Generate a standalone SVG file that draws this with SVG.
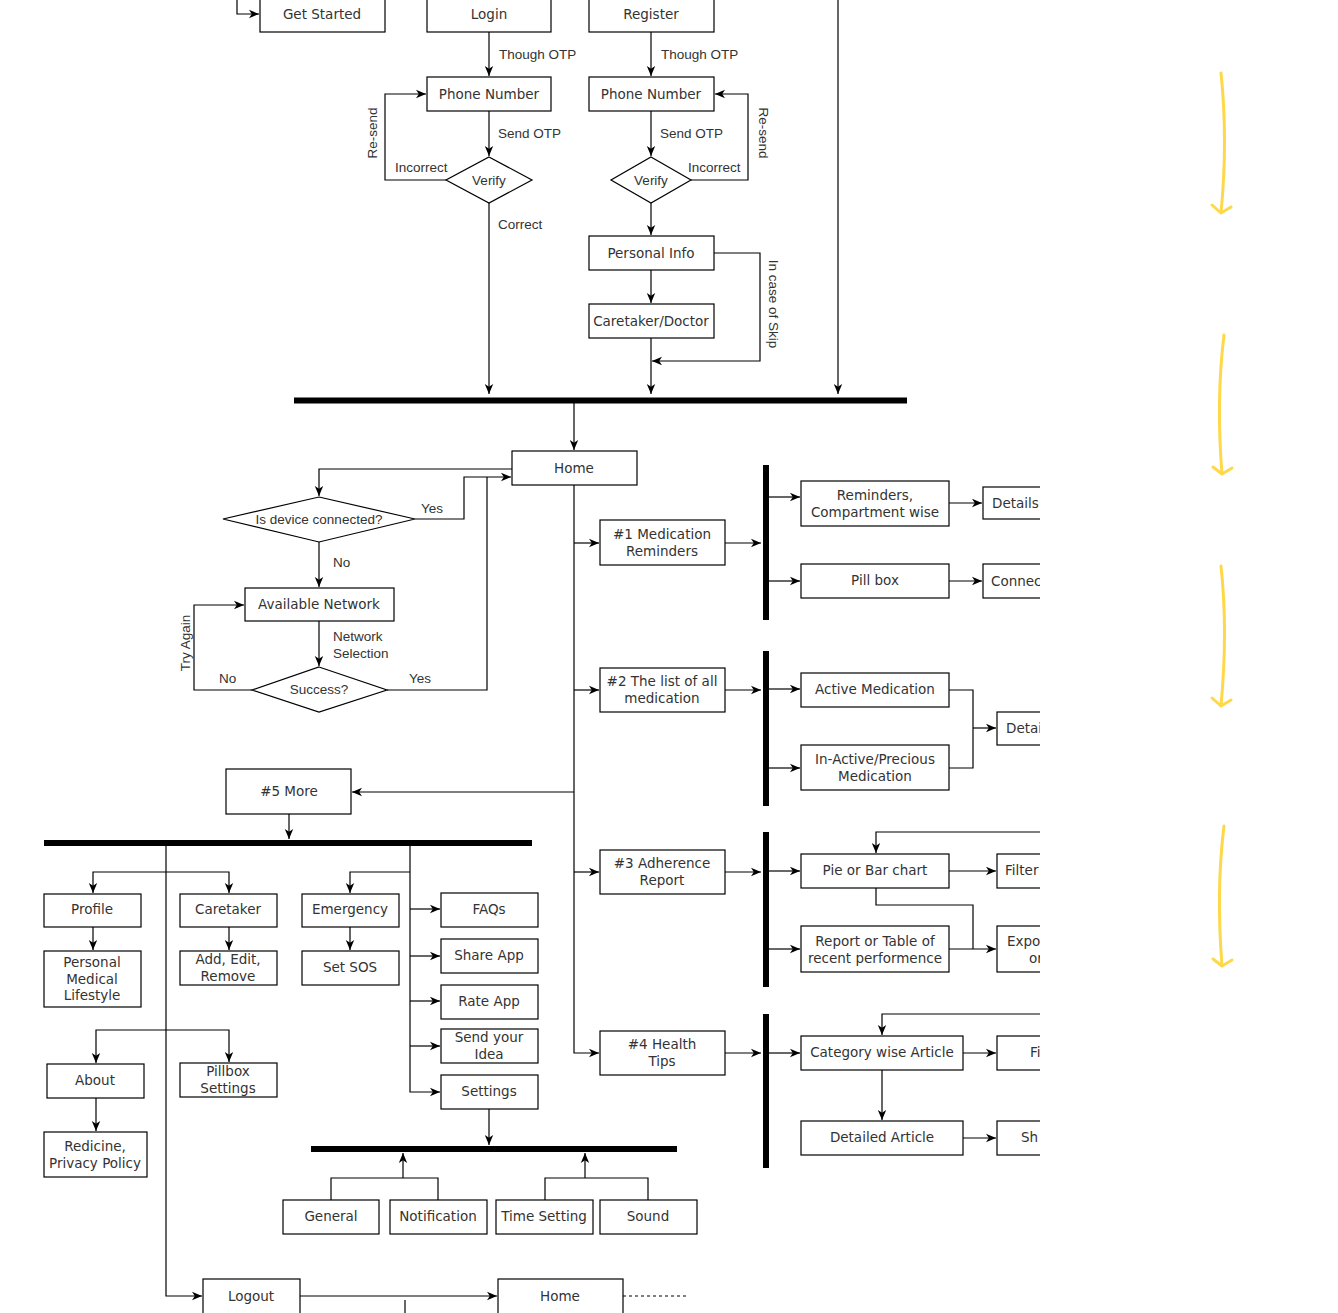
<svg xmlns="http://www.w3.org/2000/svg" width="1338" height="1313" viewBox="0 0 1338 1313">
<style>
.b{fill:#fff;stroke:#000;stroke-width:1.2}
.t{font-family:"DejaVu Sans",Verdana,sans-serif;font-size:13.5px;fill:#333;text-anchor:middle;dominant-baseline:central}
.ts{font-family:"DejaVu Sans",Verdana,sans-serif;font-size:13.5px;fill:#333;dominant-baseline:central}
.l{font-family:"Liberation Sans",Arial,sans-serif;font-size:13.5px;fill:#333;dominant-baseline:central}
.lm{font-family:"Liberation Sans",Arial,sans-serif;font-size:13.5px;fill:#333;text-anchor:middle;dominant-baseline:central}
.c{fill:none;stroke:#000;stroke-width:1.2}
.ca{fill:none;stroke:#000;stroke-width:1.2;marker-end:url(#a)}
.bar{fill:#000}
.y{fill:none;stroke:#FFD84A;stroke-width:3;stroke-linecap:round;stroke-linejoin:round}
</style>
<defs>
<marker id="a" markerUnits="userSpaceOnUse" markerWidth="12" markerHeight="12" refX="10" refY="5" orient="auto">
<path d="M0,0.8 L10,5 L0,9.2 L2.8,5 z" fill="#000"/>
</marker>
<clipPath id="clip"><rect x="0" y="0" width="1040" height="1313"/></clipPath>
</defs>
<rect x="0" y="0" width="1338" height="1313" fill="#fff"/>
<g clip-path="url(#clip)">
<g id="connectors">
<path class="ca" d="M237,0 V14 H259"/>
<path class="ca" d="M489,32 V76"/>
<path class="ca" d="M651,32 V76"/>
<path class="ca" d="M489,111 V156"/>
<path class="ca" d="M651,111 V156"/>
<path class="ca" d="M446,180 H385 V94 H426"/>
<path class="ca" d="M691,180 H748 V94 H715"/>
<path class="ca" d="M489,203 V394"/>
<path class="ca" d="M651,203 V235"/>
<path class="ca" d="M651,270 V303"/>
<path class="ca" d="M714,253 H760 V361 H652"/>
<path class="ca" d="M651,338 V394"/>
<path class="ca" d="M838,0 V394"/>
<path class="ca" d="M574,403 V450"/>
<path class="ca" d="M512,469 H319 V496"/>
<path class="ca" d="M415,519 H464 V477 H511"/>
<path class="ca" d="M319,542 V587"/>
<path class="ca" d="M319,621 V666"/>
<path class="c" d="M387,690 H487 V477"/>
<path class="ca" d="M252,690 H194 V605 H244"/>
<path class="ca" d="M574,485 V1053 H599"/>
<path class="ca" d="M574,543 H599"/>
<path class="ca" d="M574,690 H599"/>
<path class="ca" d="M574,792 H352"/>
<path class="ca" d="M574,872 H599"/>
<path class="ca" d="M725,543 H761"/>
<path class="ca" d="M725,690 H761"/>
<path class="ca" d="M725,872 H761"/>
<path class="ca" d="M725,1053 H761"/>
<path class="ca" d="M769,497 H800"/>
<path class="ca" d="M769,581 H800"/>
<path class="ca" d="M949,503 H982"/>
<path class="ca" d="M949,581 H982"/>
<path class="ca" d="M769,689 H800"/>
<path class="ca" d="M769,768 H800"/>
<path class="c" d="M949,690 H973 V768 H949"/>
<path class="ca" d="M973,728 H996"/>
<path class="ca" d="M769,871 H800"/>
<path class="ca" d="M769,949 H800"/>
<path class="ca" d="M949,871 H996"/>
<path class="ca" d="M1040,832 H876 V853"/>
<path class="c" d="M876,888 V905 H973 V949"/>
<path class="ca" d="M949,949 H996"/>
<path class="ca" d="M769,1053 H800"/>
<path class="ca" d="M963,1053 H996"/>
<path class="ca" d="M1040,1014 H882 V1035"/>
<path class="ca" d="M882,1070 V1120"/>
<path class="ca" d="M963,1138 H996"/>
<path class="ca" d="M289,814 V839"/>
<path class="ca" d="M166,846 V1296 H202"/>
<path class="ca" d="M166,872 H93 V893"/>
<path class="ca" d="M166,872 H229 V893"/>
<path class="ca" d="M93,927 V950"/>
<path class="ca" d="M229,927 V950"/>
<path class="ca" d="M350,927 V950"/>
<path class="ca" d="M410,846 V1092 H440"/>
<path class="ca" d="M410,872 H350 V893"/>
<path class="ca" d="M410,909 H440"/>
<path class="ca" d="M410,956 H440"/>
<path class="ca" d="M410,1001 H440"/>
<path class="ca" d="M410,1046 H440"/>
<path class="ca" d="M166,1030 H96 V1063"/>
<path class="ca" d="M166,1030 H229 V1062"/>
<path class="ca" d="M96,1098 V1131"/>
<path class="ca" d="M489,1109 V1145"/>
<path class="c" d="M331,1200 V1178 H438 V1200"/>
<path class="ca" d="M403,1178 V1153"/>
<path class="c" d="M545,1200 V1178 H648 V1200"/>
<path class="ca" d="M585,1178 V1153"/>
<path class="ca" d="M300,1296 H497"/>
<path class="c" d="M405,1300 V1313"/>
<path class="c" d="M623,1296 H688" stroke-dasharray="3,3"/>
</g>
<g id="labels">
<text class="l" x="499" y="54">Though OTP</text>
<text class="l" x="661" y="54">Though OTP</text>
<text class="l" x="498" y="133">Send OTP</text>
<text class="l" x="660" y="133">Send OTP</text>
<text class="l" x="395" y="167">Incorrect</text>
<text class="l" x="688" y="167">Incorrect</text>
<text class="lm" transform="translate(372,133) rotate(-90)">Re-send</text>
<text class="lm" transform="translate(763,133) rotate(90)">Re-send</text>
<text class="l" x="498" y="224">Correct</text>
<text class="lm" transform="translate(773,304) rotate(90)">In case of Skip</text>
<text class="l" x="421" y="508">Yes</text>
<text class="l" x="333" y="562">No</text>
<text class="l" x="333" y="636">Network</text>
<text class="l" x="333" y="653">Selection</text>
<text class="l" x="409" y="678">Yes</text>
<text class="l" x="219" y="678">No</text>
<text class="lm" transform="translate(185,643) rotate(-90)">Try Again</text>
</g>
<g id="bars">
<rect class="bar" x="294" y="397.5" width="613" height="6"/>
<rect class="bar" x="763" y="465" width="6" height="155"/>
<rect class="bar" x="763" y="651" width="6" height="155"/>
<rect class="bar" x="763" y="832" width="6" height="155"/>
<rect class="bar" x="763" y="1014" width="6" height="154"/>
<rect class="bar" x="44" y="840" width="488" height="6"/>
<rect class="bar" x="311" y="1146" width="366" height="6"/>
</g>
<g id="n-getstarted"><rect class="b" x="260" y="-2" width="125" height="34"/><text class="t" x="322" y="14">Get Started</text></g>
<g id="n-login"><rect class="b" x="427" y="-2" width="124" height="34"/><text class="t" x="489" y="14">Login</text></g>
<g id="n-register"><rect class="b" x="589" y="-2" width="125" height="34"/><text class="t" x="651" y="14">Register</text></g>
<g id="n-phone1"><rect class="b" x="427" y="77" width="124" height="34"/><text class="t" x="489" y="94">Phone Number</text></g>
<g id="n-phone2"><rect class="b" x="589" y="77" width="125" height="34"/><text class="t" x="651" y="94">Phone Number</text></g>
<g id="n-verify1"><polygon class="b" points="489,157 532,180 489,203 446,180"/><text class="lm" x="489" y="180">Verify</text></g>
<g id="n-verify2"><polygon class="b" points="651,157 691,180 651,203 611,180"/><text class="lm" x="651" y="180">Verify</text></g>
<g id="n-personal"><rect class="b" x="589" y="236" width="125" height="34"/><text class="t" x="651" y="253">Personal Info</text></g>
<g id="n-caretakerdoc"><rect class="b" x="589" y="304" width="125" height="34"/><text class="t" x="651" y="321">Caretaker/Doctor</text></g>
<g id="n-home"><rect class="b" x="512" y="451" width="125" height="34"/><text class="t" x="574" y="468">Home</text></g>
<g id="n-device"><polygon class="b" points="319,497 415,519 319,542 223,519"/><text class="lm" x="319" y="519">Is device connected?</text></g>
<g id="n-network"><rect class="b" x="245" y="588" width="149" height="33"/><text class="t" x="319" y="604">Available Network</text></g>
<g id="n-success"><polygon class="b" points="319,667 387,690 319,712 252,690"/><text class="lm" x="319" y="689">Success?</text></g>
<g id="n-m1"><rect class="b" x="600" y="520" width="125" height="45"/><text class="t" x="662" y="534">#1 Medication</text><text class="t" x="662" y="551">Reminders</text></g>
<g id="n-m2"><rect class="b" x="600" y="668" width="125" height="44"/><text class="t" x="662" y="681">#2 The list of all</text><text class="t" x="662" y="698">medication</text></g>
<g id="n-m3"><rect class="b" x="600" y="850" width="125" height="44"/><text class="t" x="662" y="863">#3 Adherence</text><text class="t" x="662" y="880">Report</text></g>
<g id="n-m4"><rect class="b" x="600" y="1031" width="125" height="44"/><text class="t" x="662" y="1044">#4 Health</text><text class="t" x="662" y="1061">Tips</text></g>
<g id="n-reminders"><rect class="b" x="801" y="481" width="148" height="45"/><text class="t" x="875" y="495">Reminders,</text><text class="t" x="875" y="512">Compartment wise</text></g>
<g id="n-pillbox"><rect class="b" x="801" y="564" width="148" height="34"/><text class="t" x="875" y="580">Pill box</text></g>
<g id="n-details1"><rect class="b" x="983" y="487" width="80" height="32"/><text class="ts" x="992" y="503">Details</text></g>
<g id="n-connect"><rect class="b" x="983" y="564" width="80" height="34"/><text class="ts" x="991" y="581">Connec</text></g>
<g id="n-active"><rect class="b" x="801" y="673" width="148" height="34"/><text class="t" x="875" y="689">Active Medication</text></g>
<g id="n-inactive"><rect class="b" x="801" y="745" width="148" height="45"/><text class="t" x="875" y="759">In-Active/Precious</text><text class="t" x="875" y="776">Medication</text></g>
<g id="n-details2"><rect class="b" x="997" y="712" width="80" height="33"/><text class="ts" x="1006" y="728">Detai</text></g>
<g id="n-pie"><rect class="b" x="801" y="854" width="148" height="34"/><text class="t" x="875" y="870">Pie or Bar chart</text></g>
<g id="n-report"><rect class="b" x="801" y="926" width="148" height="46"/><text class="t" x="875" y="941">Report or Table of</text><text class="t" x="875" y="958">recent performence</text></g>
<g id="n-filter"><rect class="b" x="997" y="854" width="80" height="34"/><text class="ts" x="1005" y="870">Filter</text></g>
<g id="n-export"><rect class="b" x="997" y="926" width="80" height="46"/><text class="ts" x="1007" y="941">Expo</text><text class="ts" x="1029" y="958">or</text></g>
<g id="n-category"><rect class="b" x="801" y="1036" width="162" height="34"/><text class="t" x="882" y="1052">Category wise Article</text></g>
<g id="n-detailed"><rect class="b" x="801" y="1121" width="162" height="34"/><text class="t" x="882" y="1137">Detailed Article</text></g>
<g id="n-fi"><rect class="b" x="997" y="1036" width="80" height="34"/><text class="ts" x="1030" y="1052">Fi</text></g>
<g id="n-sh"><rect class="b" x="997" y="1121" width="80" height="34"/><text class="ts" x="1021" y="1137">Sh</text></g>
<g id="n-more"><rect class="b" x="226" y="769" width="125" height="45"/><text class="t" x="289" y="791">#5 More</text></g>
<g id="n-profile"><rect class="b" x="44" y="894" width="97" height="33"/><text class="t" x="92" y="909">Profile</text></g>
<g id="n-pml"><rect class="b" x="44" y="951" width="97" height="56"/><text class="t" x="92" y="962">Personal</text><text class="t" x="92" y="979">Medical</text><text class="t" x="92" y="995">Lifestyle</text></g>
<g id="n-caretaker"><rect class="b" x="180" y="894" width="97" height="33"/><text class="t" x="228" y="909">Caretaker</text></g>
<g id="n-addedit"><rect class="b" x="180" y="951" width="97" height="34"/><text class="t" x="228" y="959">Add, Edit,</text><text class="t" x="228" y="976">Remove</text></g>
<g id="n-emergency"><rect class="b" x="302" y="894" width="97" height="33"/><text class="t" x="350" y="909">Emergency</text></g>
<g id="n-sos"><rect class="b" x="302" y="951" width="97" height="34"/><text class="t" x="350" y="967">Set SOS</text></g>
<g id="n-faqs"><rect class="b" x="441" y="893" width="97" height="34"/><text class="t" x="489" y="909">FAQs</text></g>
<g id="n-share"><rect class="b" x="441" y="939" width="97" height="34"/><text class="t" x="489" y="955">Share App</text></g>
<g id="n-rate"><rect class="b" x="441" y="985" width="97" height="34"/><text class="t" x="489" y="1001">Rate App</text></g>
<g id="n-idea"><rect class="b" x="441" y="1029" width="97" height="34"/><text class="t" x="489" y="1037">Send your</text><text class="t" x="489" y="1054">Idea</text></g>
<g id="n-settings"><rect class="b" x="441" y="1075" width="97" height="34"/><text class="t" x="489" y="1091">Settings</text></g>
<g id="n-about"><rect class="b" x="47" y="1064" width="97" height="34"/><text class="t" x="95" y="1080">About</text></g>
<g id="n-pillboxset"><rect class="b" x="180" y="1063" width="97" height="34"/><text class="t" x="228" y="1071">Pillbox</text><text class="t" x="228" y="1088">Settings</text></g>
<g id="n-privacy"><rect class="b" x="44" y="1132" width="103" height="45"/><text class="t" x="95" y="1146">Redicine,</text><text class="t" x="95" y="1163">Privacy Policy</text></g>
<g id="n-general"><rect class="b" x="283" y="1200" width="96" height="34"/><text class="t" x="331" y="1216">General</text></g>
<g id="n-notification"><rect class="b" x="390" y="1200" width="97" height="34"/><text class="t" x="438" y="1216">Notification</text></g>
<g id="n-time"><rect class="b" x="496" y="1200" width="97" height="34"/><text class="t" x="544" y="1216">Time Setting</text></g>
<g id="n-sound"><rect class="b" x="600" y="1200" width="97" height="34"/><text class="t" x="648" y="1216">Sound</text></g>
<g id="n-logout"><rect class="b" x="203" y="1279" width="97" height="40"/><text class="t" x="251" y="1296">Logout</text></g>
<g id="n-home2"><rect class="b" x="498" y="1279" width="125" height="40"/><text class="t" x="560" y="1296">Home</text></g>
</g>
<g id="yellow-arrows">
<path class="y" d="M1221,73 Q1228,140 1221,213 M1212,205 L1221,213 L1231,207"/>
<path class="y" d="M1224,335 Q1216,400 1222,474 M1213,467 L1222,474 L1232,468"/>
<path class="y" d="M1221,566 Q1228,630 1221,706 M1212,698 L1221,706 L1231,700"/>
<path class="y" d="M1224,826 Q1216,890 1222,966 M1213,959 L1222,966 L1232,960"/>
</g>
</svg>
